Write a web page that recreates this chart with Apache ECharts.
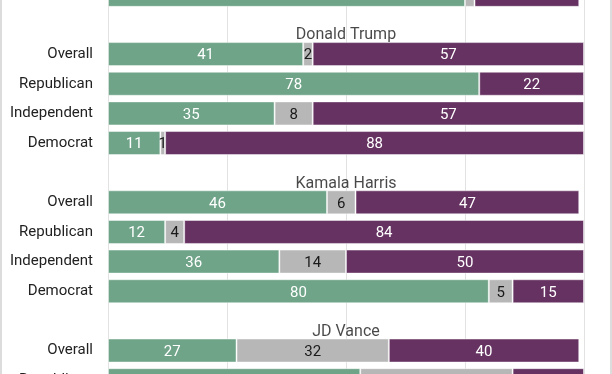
<!DOCTYPE html>
<html>
<head>
<meta charset="utf-8">
<script src="https://cdn.jsdelivr.net/npm/echarts@6/dist/echarts.min.js"></script>
<style>
html,body{margin:0;padding:0;background:#fff;overflow:hidden;}
#wrap{position:relative;width:612px;height:374px;overflow:hidden;}
#chart{position:absolute;left:0;top:-20px;width:612px;height:415px;}
</style>
</head>
<body>
<div id="wrap"><div id="chart"></div></div>
<script>
// Rows top to bottom (blank rows hold group titles)
const rowLabels = ['', '', 'Overall', 'Republican', 'Independent', 'Democrat', '', 'Overall', 'Republican', 'Independent', 'Democrat', '', 'Overall', 'Republican'];
const groupTitles = [null, 'Donald Trump', null, null, null, null, 'Kamala Harris', null, null, null, null, 'JD Vance', null, null];
const greenValues  = [75, null, 41, 78, 35, 11, null, 46, 12, 36, 80, null, 27, 53];
const grayValues   = [2,  null, 2,  0,  8,  1,  null, 6,  4,  14, 5,  null, 32, 32];
const purpleValues = [22, null, 57, 22, 57, 88, null, 47, 84, 50, 15, null, 40, 15];
const xTicks = [0, 25, 50, 75, 100];

const chart = echarts.init(document.getElementById('chart'), null, {renderer: 'canvas'});
const font = 'Roboto';

function labelCfg(color) {
  return {
    show: true,
    position: 'inside',
    offset: [0, 1.5],
    color: color,
    fontFamily: font,
    fontSize: 15,
    formatter: p => (p.value === null || p.value === 0) ? '' : String(p.value)
  };
}
const border = {borderColor: 'rgba(255,255,255,0.45)', borderWidth: 1};

const titleData = groupTitles.map(t => t ? {value: 50, name: t} : null);

chart.setOption({
  animation: false,
  backgroundColor: '#fff',
  grid: {left: 108, right: 28, top: 0, bottom: 0, containLabel: false},
  xAxis: {
    type: 'value', min: xTicks[0], max: xTicks[xTicks.length - 1], interval: 25,
    axisLabel: {show: false}, axisLine: {show: false}, axisTick: {show: false},
    splitLine: {show: true, lineStyle: {color: '#e2e2e2', width: 1}}
  },
  yAxis: {
    type: 'category', inverse: true, data: rowLabels,
    axisLine: {show: false}, axisTick: {show: false},
    axisLabel: {color: '#222', fontFamily: font, fontSize: 15, margin: 15},
    splitLine: {show: false}
  },
  series: [
    {type: 'bar', name: 'green', stack: 'total', barWidth: 24, data: greenValues,
     itemStyle: Object.assign({color: '#6fa488'}, border), label: labelCfg('#fff')},
    {type: 'bar', name: 'gray', stack: 'total', barWidth: 24, data: grayValues,
     itemStyle: Object.assign({color: '#b7b7b7'}, border), label: labelCfg('#1a1a1a')},
    {type: 'bar', name: 'purple', stack: 'total', barWidth: 24, data: purpleValues,
     itemStyle: Object.assign({color: '#663262'}, border), label: labelCfg('#fff')},
    {type: 'scatter', name: 'titles', symbolSize: 0, data: titleData, silent: true,
     label: {show: true, position: 'inside', offset: [0, 11], formatter: p => p.name,
             color: '#1a1a1a', fontFamily: font, fontSize: 16}}
  ],
  graphic: [
    {type: 'line', shape: {x1: 1, y1: 0, x2: 1, y2: 415}, style: {stroke: '#dcdcdc', lineWidth: 2}, silent: true},
    {type: 'line', shape: {x1: 611, y1: 0, x2: 611, y2: 415}, style: {stroke: '#dcdcdc', lineWidth: 2}, silent: true}
  ]
});
</script>
</body>
</html>
